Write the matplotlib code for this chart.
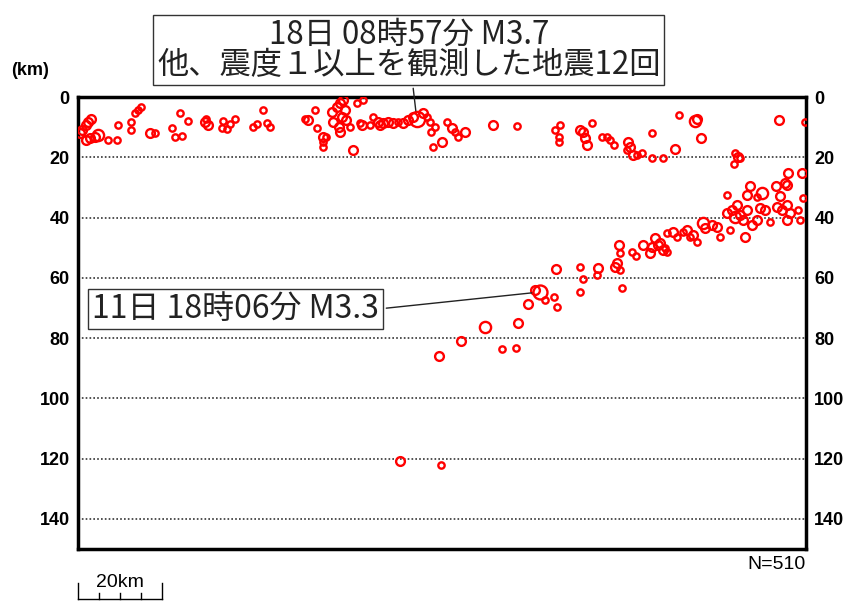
import matplotlib
matplotlib.use('Agg')
import matplotlib.pyplot as plt
import numpy as np

plt.rcParams['font.family'] = ['Noto Sans CJK JP', 'DejaVu Sans']

# hypocentre cross-section: distance along profile (km), depth (km), magnitude
dist = [0.5, 1.0, 2.4, 3.1, 1.9, 2.9, 4.0, 4.8, 1.9, 7.1, 9.3, 9.5, 12.6, 12.6, 13.5, 14.3, 15.0,
        17.1, 18.3, 22.3, 23.0, 24.7, 24.2, 26.1, 30.2, 30.9, 30.4, 34.5, 36.1, 37.3, 34.2, 35.4,
        41.6, 42.5, 44.0, 44.9, 45.6, 54.6, 53.9, 56.3, 56.8, 58.2, 58.2, 58.2, 58.9, 60.4, 61.5,
        62.3, 63.0, 62.7, 60.6, 62.0, 62.3, 63.4, 63.7, 64.6, 66.3, 67.7, 67.0, 67.5, 65.3, 69.4,
        70.1, 71.3, 72.5, 73.7, 74.8, 71.8, 76.0, 77.2, 78.4, 79.6, 80.5, 82.0, 82.9, 83.6, 83.9,
        84.8, 86.5, 84.3, 87.7, 88.9, 89.6, 90.3, 92.0, 98.6, 104.3, 113.3, 114.5, 114.3, 114.3,
        119.3, 120.0, 120.5, 120.9, 122.1, 124.5, 125.7, 126.4, 127.4, 130.7, 131.2, 130.4, 131.9,
        132.8, 134.0, 136.4, 136.4, 139.0, 141.8, 142.8, 146.6, 147.1, 148.0, 156.1, 156.8, 157.3,
        155.9, 166.6, 172.7,
        168.7, 172.0, 159.7, 159.0, 161.3, 162.5, 165.8, 168.0, 168.5, 154.2, 166.8, 172.3, 156.6,
        155.4, 154.2, 156.1, 157.3, 159.0, 158.0, 162.0, 163.2, 166.1, 167.3, 168.5, 169.2, 171.1,
        171.5, 168.5, 164.4, 161.3, 160.1, 158.5, 154.9, 151.8, 152.5, 148.5, 149.0, 150.6, 144.7,
        145.4, 146.1, 147.1, 141.4, 142.3, 137.1, 136.4, 137.8, 139.5, 139.9, 139.9, 143.7, 138.3,
        139.0, 135.9, 134.2, 131.6, 132.6, 128.5, 128.8, 128.1, 127.6, 128.8, 123.6, 123.3, 120.0,
        119.3, 119.3, 129.3, 113.6, 109.8, 108.6, 111.0, 113.1, 113.8, 106.9, 104.5, 96.7, 91.0,
        85.8, 100.7, 104.1, 76.5, 86.2]
depth = [11.9, 10.9, 8.3, 7.3, 9.3, 13.6, 13.3, 12.6, 14.3, 14.3, 14.3, 9.3, 8.3, 10.9, 5.3, 4.3,
         3.3, 11.9, 11.9, 10.3, 13.3, 12.9, 5.3, 8.0, 8.3, 9.3, 7.3, 8.0, 9.0, 7.3, 10.3, 10.6,
         10.0, 9.0, 4.3, 8.6, 10.0, 7.6, 7.3, 4.3, 10.3, 13.3, 14.9, 16.6, 13.3, 5.0, 3.3, 2.0, 1.0,
         6.6, 8.3, 10.0, 11.6, 4.3, 7.6, 10.0, 2.0, 1.0, 8.6, 9.3, 17.6, 9.3, 6.6, 8.3, 8.6, 8.3,
         8.6, 9.3, 8.3, 8.6, 7.6, 6.6, 7.3, 5.3, 6.6, 8.3, 11.6, 10.0, 14.9, 16.6, 8.3, 10.3, 11.6,
         13.3, 11.6, 9.3, 9.6, 10.9, 9.3, 13.3, 14.9, 10.9, 11.6, 13.6, 15.9, 8.6, 13.3, 13.3, 14.3,
         15.9, 14.9, 16.6, 17.6, 19.2, 19.2, 18.6, 11.9, 20.2, 20.2, 17.3, 6.0, 8.0, 7.3, 13.6,
         18.6, 19.9, 20.2, 22.2, 7.6, 8.3,
         25.2, 25.2, 29.5, 32.5, 33.2, 31.9, 29.5, 28.5, 29.2, 32.5, 32.8, 33.5, 35.8, 37.5, 38.5,
         39.8, 39.2, 37.5, 40.8, 36.8, 37.5, 36.5, 37.5, 35.8, 38.5, 37.5, 40.8, 40.8, 41.5, 40.8,
         42.5, 46.5, 44.1, 43.1, 46.5, 41.8, 43.5, 42.5, 44.1, 46.5, 45.8, 48.1, 44.8, 46.5, 46.8,
         49.8, 49.1, 50.1, 51.4, 45.1, 44.8, 48.4, 50.8, 51.8, 49.1, 51.4, 52.8, 49.1, 51.8, 55.1,
         56.4, 57.4, 56.7, 59.1, 60.4, 56.4, 64.7, 63.4, 57.1, 64.7, 64.0, 67.4, 66.4, 69.7, 68.7,
         75.0, 76.3, 81.0, 85.9, 83.6, 83.3, 120.8, 122.1]
mag = [1.6, 1.6, 1.6, 1.6, 1.6, 1.6, 1.6, 2.4, 1.6, 0.8, 0.8, 0.8, 0.8, 0.8, 0.8, 0.8, 0.8,
       1.6, 0.8, 0.8, 0.8, 0.8, 0.8, 0.8, 1.6, 1.6, 0.8, 0.8, 0.8, 0.8, 0.8, 0.8, 0.8, 0.8, 0.8,
       0.8, 0.8, 1.6, 0.8, 0.8, 0.8, 1.6, 0.8, 0.8, 0.8, 1.6, 1.6, 1.6, 1.6, 1.6, 1.6, 1.6, 1.6,
       1.6, 1.6, 0.8, 0.8, 0.8, 0.8, 1.6, 1.6, 0.8, 0.8, 1.6, 1.6, 1.6, 1.6, 1.6, 0.8, 1.6, 1.6,
       1.6, 3.7, 1.6, 0.8, 0.8, 0.8, 0.8, 1.6, 0.8, 0.8, 1.6, 0.8, 0.8, 1.6, 1.6, 0.8, 0.8, 0.8,
       0.8, 0.8, 1.6, 1.6, 1.6, 1.6, 0.8, 0.8, 0.8, 0.8, 0.8, 1.6, 1.6, 0.8, 1.6, 0.8, 0.8, 0.8,
       0.8, 0.8, 1.6, 0.8, 2.4, 1.6, 1.6, 0.8, 1.6, 0.8, 0.8, 1.6, 0.8,
       1.6, 1.6, 1.6, 1.6, 0.8, 2.4, 1.6, 1.6, 1.6, 0.8, 1.6, 0.8, 1.6, 1.6, 1.6, 2.4, 1.6, 1.6,
       1.6, 1.6, 1.6, 1.6, 1.6, 1.6, 1.6, 0.8, 0.8, 1.6, 0.8, 1.6, 1.6, 1.6, 0.8, 1.6, 0.8, 2.4,
       1.6, 1.6, 1.6, 0.8, 1.6, 0.8, 1.6, 0.8, 1.6, 1.6, 1.6, 0.8, 0.8, 0.8, 0.8, 1.6, 1.6, 1.6,
       1.6, 0.8, 0.8, 1.6, 0.8, 1.6, 1.6, 0.8, 1.6, 0.8, 0.8, 0.8, 0.8, 0.8, 1.6, 3.3, 1.6, 0.8,
       0.8, 0.8, 1.6, 1.6, 2.4, 1.6, 1.6, 0.8, 0.8, 1.6, 0.8]

depth_ticks = [0, 20, 40, 60, 80, 100, 120, 140]
n_total = 510
scale_km = 20

# annotated events (index into the arrays above)
main_label = '18日 08時57分 M3.7\n他、震度１以上を観測した地震12回'
main_idx = mag.index(3.7)
sub_label = '11日 18時06分 M3.3'
sub_idx = mag.index(3.3)

fig = plt.figure(figsize=(8.48, 6.01), dpi=100)
ax = fig.add_axes([0.092, 0.0865, 0.8585, 0.752])

for d, z, m in zip(dist, depth, mag):
    ax.plot(d, z, 'o', markersize=2.8 + 2.2 * m, markerfacecolor='none',
            markeredgecolor='#ff0000', markeredgewidth=1.7, zorder=3)

ax.set_xlim(0, 173)
ax.set_ylim(150, 0)
ax.set_xticks([])
ax.set_yticks(depth_ticks)
ax.tick_params(axis='y', length=0, labelsize=13, pad=6, labelright=True, right=False)
for lab in ax.get_yticklabels():
    lab.set_fontfamily('Liberation Sans')
    lab.set_fontweight('bold')
for t in depth_ticks[1:]:
    ax.axhline(t, color='#333333', linestyle=(0, (1, 1.3)), linewidth=1.2, zorder=1)
for sp in ax.spines.values():
    sp.set_linewidth(2.5)

fig.text(0.013, 0.875, '(km)', fontsize=13, fontweight='bold', family='Liberation Sans')
fig.text(0.9505, 0.06, f'N={n_total}', fontsize=14, ha='right', va='center',
         family='Liberation Sans')

# 20 km scale bar under the axes
sb = ax.get_xaxis_transform()
ax.plot([0, scale_km], [-0.11, -0.11], color='black', lw=1, transform=sb, clip_on=False)
for k in range(5):
    h = 0.035 if k in (0, 4) else 0.012
    ax.plot([k * scale_km / 4] * 2, [-0.11, -0.11 + h], color='black', lw=1,
            transform=sb, clip_on=False)
ax.text(scale_km / 2, -0.075, f'{scale_km}km', transform=sb, ha='center', va='center',
        fontsize=14, family='Liberation Sans')

box = dict(boxstyle='square,pad=0.12', facecolor='white', edgecolor='#333333', linewidth=1)
ax.annotate(main_label, xy=(dist[main_idx], depth[main_idx]), xycoords='data',
            xytext=(0.482, 0.917), textcoords='figure fraction', ha='center', va='center',
            fontsize=22.5, linespacing=0.95, color='#222222', bbox=box,
            arrowprops=dict(arrowstyle='-', color='#222222', lw=1, shrinkB=6), zorder=5)
ax.annotate(sub_label, xy=(dist[sub_idx], depth[sub_idx]), xycoords='data',
            xytext=(0.278, 0.486), textcoords='figure fraction', ha='center', va='center',
            fontsize=23, color='#222222', bbox=box,
            arrowprops=dict(arrowstyle='-', color='#222222', lw=1, shrinkB=6,
                            relpos=(1, 0.5)), zorder=5)

fig.savefig('out.png', dpi=100)
